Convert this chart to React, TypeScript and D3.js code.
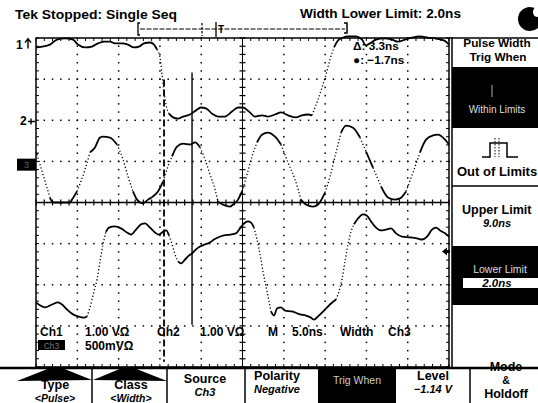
import React from 'react';
import * as d3 from 'd3';

const W = 538;
const H = 403;

// scope record: time in ns (5 ns/div, 10 div), amplitude in graticule divisions
const ch1Trace: [number, number][] = [
  [0, 3.77], [0.73, 3.79], [1.69, 3.84], [2.54, 3.96], [3.51, 3.99], [4.48, 3.96], [5.08, 3.84], [5.93, 3.77],
  [6.78, 3.79], [7.51, 3.87], [8.23, 3.91], [8.96, 3.91], [9.57, 3.87], [10.41, 3.87], [11.14, 3.84], [11.86, 3.77],
  [12.47, 3.79], [13.08, 3.87], [13.8, 3.89], [14.29, 3.84], [14.65, 3.72], [15.01, 3.53], [15.26, 3.11], [15.5, 2.7],
  [15.74, 2.38], [16.1, 2.16], [16.59, 2.07], [17.19, 2.04], [17.8, 2.09], [18.64, 2.14], [19.37, 2.24], [19.98, 2.31],
  [20.58, 2.29], [21.31, 2.16], [22.03, 2.09], [22.88, 2.09], [23.73, 2.21], [24.46, 2.31], [25.06, 2.31], [25.79, 2.21],
  [26.51, 2.09], [27.36, 2.12], [28.08, 2.09], [28.94, 2.14], [29.66, 2.19], [30.51, 2.12], [31.48, 2.07], [32.2, 2.12],
  [32.93, 2.14], [33.42, 2.12], [33.78, 2.31], [34.14, 2.5], [34.63, 2.8], [35.11, 3.11], [35.59, 3.48], [36.08, 3.77],
  [36.56, 3.94], [37.17, 4.01], [37.77, 4.04], [38.74, 4.04], [39.47, 3.96], [39.95, 3.82], [40.44, 3.87], [41.16, 3.96],
  [42.13, 3.99], [43.1, 3.96], [43.83, 3.91], [44.67, 3.96], [45.52, 4.01], [46.49, 4.04], [47.46, 4.01], [48.3, 3.99],
  [49.03, 3.96], [49.64, 3.91], [50, 3.84],
];

const ch2Trace: [number, number][] = [
  [0, 1.22], [0.12, 1.17], [1.69, 0.12], [2.06, 0], [3.15, 0], [4.12, 0], [4.36, 0.07], [4.96, 0.27], [5.93, 0.8],
  [6.54, 1.22], [7.14, 1.34], [7.75, 1.58], [8.11, 1.6], [8.96, 1.58], [9.81, 1.41], [10.53, 1.05], [11.14, 0.63],
  [11.74, 0.27], [12.23, 0.07], [12.95, -0.02], [13.56, 0.07], [14.17, 0.15], [14.77, 0.27], [15.38, 0.51],
  [15.98, 0.88], [16.47, 1.12], [17.07, 1.36], [17.8, 1.43], [18.64, 1.41], [19.25, 1.46], [19.86, 1.34],
  [20.46, 1.05], [21.07, 0.68], [21.67, 0.32], [22.03, 0.02], [22.64, -0.05], [23.49, -0.1], [23.85, -0.05],
  [24.46, 0.07], [24.94, 0.27], [25.55, 0.68], [26.15, 1.12], [26.76, 1.46], [27.36, 1.65], [28.08, 1.7],
  [28.94, 1.6], [29.66, 1.41], [30.51, 0.97], [31.36, 0.56], [32.08, 0.07], [32.69, -0.05], [33.54, -0.1],
  [34.14, -0.05], [34.99, 0.24], [35.59, 0.63], [36.32, 1.22], [36.93, 1.7], [37.53, 1.87], [38.38, 1.82],
  [39.23, 1.58], [39.95, 1.24], [40.8, 0.85], [41.77, 0.39], [42.62, 0.12], [43.46, 0.07], [44.07, 0.1],
  [44.8, 0.27], [45.64, 0.73], [46.49, 1.22], [47.22, 1.53], [48.06, 1.63], [48.67, 1.65], [49.52, 1.53], [50, 1.41],
];

const ch3Trace: [number, number][] = [
  [0, -2.43], [0.48, -2.5], [1.09, -2.55], [1.94, -2.48], [2.66, -2.43], [3.15, -2.48], [3.75, -2.6], [4.48, -2.72],
  [5.08, -2.77], [5.81, -2.8], [6.17, -2.77], [6.54, -2.55], [7.02, -2.16], [7.39, -1.87], [7.75, -1.43],
  [8.11, -1.02], [8.47, -0.71], [8.84, -0.61], [9.57, -0.58], [10.29, -0.63], [11.02, -0.73], [11.5, -0.78],
  [12.11, -0.66], [12.71, -0.53], [13.2, -0.51], [13.8, -0.61], [14.41, -0.73], [14.89, -0.78], [15.38, -0.71],
  [15.74, -0.68], [16.1, -0.8], [16.47, -1.02], [16.83, -1.26], [17.19, -1.43], [17.56, -1.48], [18.04, -1.39],
  [18.4, -1.31], [18.89, -1.24], [19.37, -1.14], [19.86, -1.07], [20.46, -1.02], [21.07, -0.97], [21.55, -0.9],
  [22.03, -0.85], [22.76, -0.8], [23.49, -0.78], [24.21, -0.75], [24.7, -0.63], [25.18, -0.51], [25.67, -0.46],
  [26.03, -0.49], [26.39, -0.61], [26.76, -0.9], [27.12, -1.26], [27.48, -1.68], [27.97, -2.16], [28.45, -2.65],
  [28.81, -2.75], [29.18, -2.58], [29.66, -2.55], [30.15, -2.63], [30.99, -2.65], [31.96, -2.72], [32.69, -2.75],
  [33.29, -2.8], [33.66, -2.85], [34.14, -2.77], [34.87, -2.63], [35.59, -2.48], [36.32, -2.36], [36.68, -2.16],
  [37.05, -1.87], [37.41, -1.43], [37.77, -1.02], [38.14, -0.71], [38.5, -0.53], [38.98, -0.39], [39.59, -0.29],
  [40.07, -0.32], [40.56, -0.46], [41.16, -0.61], [41.77, -0.68], [42.37, -0.66], [42.98, -0.63], [43.59, -0.75],
  [44.31, -0.83], [45.28, -0.85], [46.25, -0.88], [46.73, -0.9], [47.34, -0.83], [47.94, -0.66], [48.43, -0.61],
  [48.91, -0.68], [49.52, -0.75], [50, -0.83],
];

// cursors: [time, top, bottom]
const dashedCursor = [15.5, 2.99, -3.87];
const solidCursor = [18.89, 3.16, -2.97];

// channel ground markers / trigger level (divisions)
const ch1Level = 3.84;
const ch2Level = 1.97;
const ch3Level = 0.92;
const trigLevel = -1.19;

const readoutRow1 = ['Ch1', '1.00 VΩ', 'Ch2', '1.00 VΩ', 'M', '5.0ns', 'Width', 'Ch3'];
const readoutRow1X = [40, 85, 157, 200, 268, 292, 340, 388];
const menuTitles = ['Type', 'Class', 'Source', 'Polarity', 'Trig When', 'Level', 'Mode'];
const menuValues = ['<Pulse>', '<Width>', 'Ch3', 'Negative', '', '−1.14 V', 'Holdoff'];

const FONT = '"Liberation Sans", Arial, sans-serif';

const x = d3.scaleLinear().domain([0, 50]).range([36, 449]);
const y = d3.scaleLinear().domain([-4, 4]).range([367, 38]);

const majorX = d3.range(0, 50.01, 5);
const minorX = d3.range(0, 50.01, 1);
const majorY = d3.range(-4, 4.01, 1);
const minorY = d3.range(-4, 4.01, 0.2);

// split a trace into slow (solid) and fast (dotted) runs, like the dot display
const splitRuns = (pts: [number, number][]) => {
  const runs: { steep: boolean; pts: [number, number][] }[] = [];
  for (let i = 1; i < pts.length; i++) {
    const dx = Math.abs(x(pts[i][0]) - x(pts[i - 1][0]));
    const dy = Math.abs(y(pts[i][1]) - y(pts[i - 1][1]));
    const steep = dy > 2.3 * dx && dy > 6;
    const last = runs[runs.length - 1];
    if (last && last.steep === steep) last.pts.push(pts[i]);
    else runs.push({ steep, pts: [pts[i - 1], pts[i]] });
  }
  return runs;
};

const line = d3
  .line<[number, number]>()
  .x((d) => x(d[0]))
  .y((d) => y(d[1]))
  .curve(d3.curveMonotoneX);

const Trace = ({ data }: { data: [number, number][] }) => (
  <g clipPath="url(#plotClip)">
    {splitRuns(data).map((r, i) => (
      <path
        key={i}
        d={line(r.pts) || ''}
        fill="none"
        stroke="#000"
        strokeWidth={r.steep ? 1.3 : 1.8}
        strokeDasharray={r.steep ? '1.2 2.2' : undefined}
        strokeLinejoin="round"
      />
    ))}
  </g>
);

const T = (p: any) => (
  <text fontFamily={FONT} fontWeight="bold" fill="#000" {...p}>
    {p.children}
  </text>
);

export default function App() {
  const cx = x(25);
  const cy = y(0);
  const menuDiv = [92, 167, 245, 470];
  const menuCx = [55, 131, 205, 277, 357, 433, 506];
  const titleY = [389, 389, 383, 380, 384, 380, 371];
  const valueY = [401.5, 401.5, 396, 393, 0, 393, 398];

  return (
    <svg
      width={W}
      height={H}
      style={{ position: 'absolute', left: 0, top: 0, background: '#fff' }}
    >
      <defs>
        <clipPath id="plotClip">
          <rect x={36} y={35} width={413} height={332} />
        </clipPath>
      </defs>
      <rect width={W} height={H} fill="#fff" />

      {/* top status */}
      <T x={15} y={19} fontSize={13} textLength={162} lengthAdjust="spacingAndGlyphs">
        Tek Stopped: Single Seq
      </T>
      <T x={300} y={18} fontSize={12.5} textLength={161} lengthAdjust="spacingAndGlyphs">
        Width Lower Limit: 2.0ns
      </T>
      <circle cx={530} cy={19} r={12} fill="#000" />
      <ellipse cx={537} cy={12} rx={4} ry={5} fill="#fff" />

      {/* record position bar */}
      <line x1={140} x2={345} y1={29} y2={29} stroke="#000" strokeWidth={1} strokeDasharray="5 1.5" />
      <path d="M140,23 H138 V35 H140" fill="none" stroke="#000" strokeWidth={1.3} />
      <path d="M344,23 H347 V33 H344" fill="none" stroke="#000" strokeWidth={1.5} />
      <line x1={202} x2={202} y1={23} y2={36} stroke="#000" strokeWidth={1.2} strokeDasharray="2.5 1.5" />
      <line x1={216} x2={216} y1={22} y2={37} stroke="#000" strokeWidth={1.3} />
      <T x={218} y={33} fontSize={10}>T</T>

      {/* graticule dotted lines */}
      {majorX.filter((v) => v !== 0 && v !== 50 && v !== 25).map((v) =>
        minorY.map((w) => (
          <rect key={`vx${v}_${w}`} x={x(v) - 0.7} y={y(w) - 0.7} width={1.5} height={1.5} fill="#000" />
        ))
      )}
      {majorY.filter((v) => v !== -4 && v !== 4 && v !== 0).map((v) =>
        minorX.map((w) => (
          <rect key={`hy${v}_${w}`} x={x(w) - 0.7} y={y(v) - 0.7} width={1.5} height={1.5} fill="#000" />
        ))
      )}

      {/* center cross with ticks */}
      <line x1={cx} x2={cx} y1={y(4)} y2={y(-4)} stroke="#000" strokeWidth={1} />
      <line x1={x(0)} x2={x(50)} y1={cy} y2={cy} stroke="#000" strokeWidth={1.3} />
      {minorY.map((w) => (
        <line key={`cty${w}`} x1={cx - 3} x2={cx + 3} y1={y(w)} y2={y(w)} stroke="#000" strokeWidth={1.2} />
      ))}
      {minorX.map((w) => (
        <line key={`ctx${w}`} x1={x(w)} x2={x(w)} y1={cy - 3} y2={cy + 3} stroke="#000" strokeWidth={1.2} />
      ))}

      {/* border ticks */}
      {minorX.map((w) => (
        <g key={`bt${w}`}>
          <line x1={x(w)} x2={x(w)} y1={y(4)} y2={y(4) + 3} stroke="#000" strokeWidth={1} />
          <line x1={x(w)} x2={x(w)} y1={y(-4)} y2={y(-4) - 3} stroke="#000" strokeWidth={1} />
        </g>
      ))}
      {minorY.map((w) => (
        <g key={`bl${w}`}>
          <line x1={x(0)} x2={x(0) + 3} y1={y(w)} y2={y(w)} stroke="#000" strokeWidth={1} />
          <line x1={x(50)} x2={x(50) - 3} y1={y(w)} y2={y(w)} stroke="#000" strokeWidth={1} />
        </g>
      ))}
      <rect x={x(0)} y={y(4)} width={x(50) - x(0)} height={y(-4) - y(4)} fill="none" stroke="#000" strokeWidth={1.5} />
      <line x1={x(50)} x2={W} y1={y(4)} y2={y(4)} stroke="#000" strokeWidth={1.5} />

      {/* cursors */}
      <line
        x1={x(dashedCursor[0])} x2={x(dashedCursor[0])}
        y1={y(dashedCursor[1])} y2={y(dashedCursor[2])}
        stroke="#000" strokeWidth={1.8} strokeDasharray="7 3"
      />
      <line
        x1={x(solidCursor[0])} x2={x(solidCursor[0])}
        y1={y(solidCursor[1])} y2={y(solidCursor[2])}
        stroke="#000" strokeWidth={1.4}
      />

      {/* traces */}
      <Trace data={ch1Trace} />
      <Trace data={ch2Trace} />
      <Trace data={ch3Trace} />

      {/* cursor readout */}
      <T x={353} y={50} fontSize={11.8}>Δ: 3.3ns</T>
      <T x={353} y={63.5} fontSize={11.8}>●: −1.7ns</T>

      {/* channel markers */}
      <T x={16} y={y(ch1Level) + 4} fontSize={12}>1</T>
      <path
        d={`M28,${y(ch1Level) + 4} V${y(ch1Level) - 5} M25,${y(ch1Level) - 2} L28,${y(ch1Level) - 6} L31,${y(ch1Level) - 2}`}
        fill="none" stroke="#000" strokeWidth={1.4}
      />
      <T x={20} y={y(ch2Level) + 4} fontSize={12}>2</T>
      <path
        d={`M28,${y(ch2Level)} H35 M31,${y(ch2Level) - 3} V${y(ch2Level) + 3}`}
        fill="none" stroke="#000" strokeWidth={1.4}
      />
      <rect x={17} y={y(ch3Level) - 6} width={19} height={12} fill="#000" />
      <text x={26.5} y={y(ch3Level) + 3.5} fontFamily={FONT} fontSize={9} fill="#666" textAnchor="middle">3</text>
      <path
        d={`M442,${y(trigLevel)} L447,${y(trigLevel) - 4} V${y(trigLevel) - 1.5} H450 V${y(trigLevel) + 1.5} H447 V${y(trigLevel) + 4} Z`}
        fill="#000"
      />

      {/* readouts */}
      {readoutRow1.map((s, i) => (
        <T key={s + i} x={readoutRow1X[i]} y={336} fontSize={12}>{s}</T>
      ))}
      <rect x={38} y={340} width={27} height={10} fill="#000" />
      <text x={51.5} y={348.5} fontFamily={FONT} fontSize={8.5} fill="#777" textAnchor="middle">Ch3</text>
      <T x={85} y={349.8} fontSize={12}>500mVΩ</T>

      {/* right side menu */}
      <line x1={452} x2={452} y1={37} y2={367} stroke="#000" strokeWidth={1.5} />
      <T x={497} y={47} fontSize={11.8} textAnchor="middle">Pulse Width</T>
      <T x={498} y={60.5} fontSize={11.8} textAnchor="middle">Trig When</T>
      <rect x={452} y={67} width={86} height={61} fill="#000" />
      <line x1={492} x2={492} y1={85} y2={97} stroke="#aaa" strokeWidth={1} />
      <text x={497} y={113} fontFamily={FONT} fontSize={10} fill="#ddd" textAnchor="middle">Within Limits</text>
      <path d="M482,157 H490 V143 H507 V157 H518" fill="none" stroke="#000" strokeWidth={1.5} />
      <line x1={495} x2={495} y1={138} y2={157} stroke="#000" strokeWidth={1} strokeDasharray="1.5 1.5" />
      <line x1={499} x2={499} y1={138} y2={157} stroke="#000" strokeWidth={1} strokeDasharray="1.5 1.5" />
      <T x={457} y={176} fontSize={13}>Out of Limits</T>
      <line x1={452} x2={W} y1={186} y2={186} stroke="#000" strokeWidth={1.5} />
      <T x={462} y={214} fontSize={12.5}>Upper Limit</T>
      <T x={497} y={227} fontSize={11} fontStyle="italic" textAnchor="middle">9.0ns</T>
      <rect x={452} y={246} width={86} height={59} fill="#000" />
      <text x={500} y={273} fontFamily={FONT} fontSize={10.5} fill="#ddd" textAnchor="middle">Lower Limit</text>
      <rect x={463} y={278} width={75} height={10} fill="#fff" />
      <T x={497} y={287} fontSize={11.5} fontStyle="italic" textAnchor="middle">2.0ns</T>

      {/* bottom menu */}
      <line x1={0} x2={W} y1={368} y2={368} stroke="#000" strokeWidth={2.5} />
      <polygon points="17,381 50,368 62,368 92,380" fill="#000" />
      <polygon points="93,380 122,368 134,368 167,381" fill="#000" />
      {menuDiv.map((d) => (
        <line key={d} x1={d} x2={d} y1={368} y2={H} stroke="#000" strokeWidth={1.5} />
      ))}
      <rect x={318} y={368} width={78} height={35} fill="#000" />
      {menuTitles.map((s, i) => {
        if (i === 4)
          return (
            <text key={s} x={menuCx[i]} y={titleY[i]} fontFamily={FONT} fontSize={10.5} fill="#ccc" textAnchor="middle">
              {s}
            </text>
          );
        return (
          <T key={s} x={menuCx[i]} y={titleY[i]} fontSize={12.5} textAnchor="middle">{s}</T>
        );
      })}
      {menuValues.map((s, i) => {
        if (!s) return null;
        return (
          <T
            key={s + i}
            x={menuCx[i]}
            y={valueY[i]}
            fontSize={i === 6 ? 12.5 : i < 2 ? 10.5 : 11}
            fontStyle={i === 6 ? 'normal' : 'italic'}
            textAnchor="middle"
          >
            {s}
          </T>
        );
      })}
      <T x={506} y={384} fontSize={10.5} textAnchor="middle">&amp;</T>
    </svg>
  );
}
